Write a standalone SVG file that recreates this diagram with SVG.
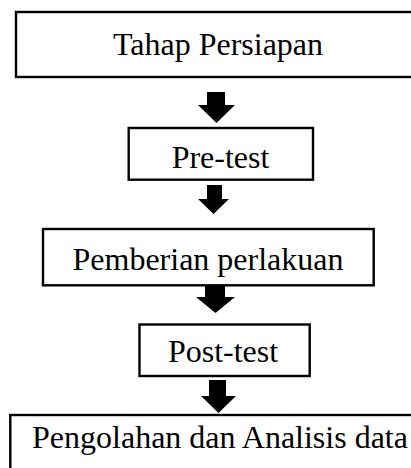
<svg xmlns="http://www.w3.org/2000/svg" width="411" height="468" viewBox="0 0 411 468">
<style>
.box{fill:#fff;stroke:#000;stroke-width:2.4}
.lbl{font-family:"Liberation Serif","Times New Roman",serif;font-size:32px;fill:#000;text-anchor:middle}
.arr{fill:#000;stroke:none}
</style>
<rect width="411" height="468" fill="#fff"/>
<g id="node-persiapan">
<rect class="box" x="16" y="12" width="400" height="65"/>
<text class="lbl" x="218" y="55">Tahap Persiapan</text>
</g>
<g id="node-pretest">
<rect class="box" x="128.7" y="128" width="184.3" height="51.7"/>
<text class="lbl" x="220.5" y="168">Pre-test</text>
</g>
<g id="node-perlakuan">
<rect class="box" x="43" y="229" width="330.7" height="56.3"/>
<text class="lbl" x="208" y="270">Pemberian perlakuan</text>
</g>
<g id="node-posttest">
<rect class="box" x="139.5" y="324.5" width="170.2" height="51.5"/>
<text class="lbl" x="223" y="362">Post-test</text>
</g>
<g id="node-analisis">
<rect class="box" x="10.3" y="415" width="410" height="70"/>
<text class="lbl" x="220" y="448">Pengolahan dan Analisis data</text>
</g>
<g id="connectors">
<polygon class="arr" points="207,92 225,92 225,105 235,105 216.5,123 198,105 207,105"/>
<polygon class="arr" points="207,185 222,185 222,199 229,199 213.5,214 198,199 207,199"/>
<polygon class="arr" points="205,286 225,286 225,297 235,297 215.5,313 196,297 205,297"/>
<polygon class="arr" points="209,380 226,380 226,396 236,396 218.5,413 201,396 209,396"/>
</g>
</svg>
